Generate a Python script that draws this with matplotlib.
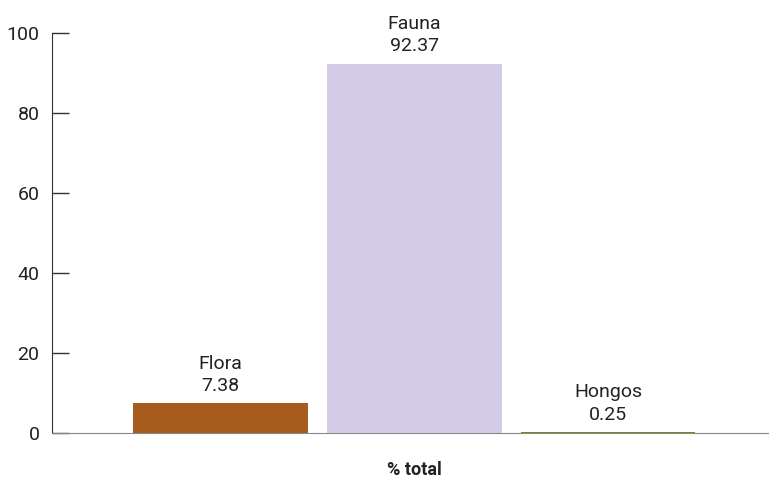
import matplotlib.pyplot as plt
import numpy as np

plt.rcParams['font.family'] = ['Roboto', 'DejaVu Sans']

# share of records per group
groups = ['Flora', 'Fauna', 'Hongos']
values = [7.38, 92.37, 0.25]
colors = ['#a65c1c', '#d4cce6', '#6b8e23']
category = '% total'

fig = plt.figure(figsize=(7.69, 4.8), dpi=100)
ax = fig.add_axes([52 / 769, 47 / 480, 1 - 52 / 769, 400 / 480])

x = np.arange(len(groups))
bars = ax.bar(x, values, width=0.9, color=colors)

for xi, name, v in zip(x, groups, values):
    ax.annotate('{}\n{:.2f}'.format(name, v), (xi, v), xytext=(0, 6),
                textcoords='offset points', ha='center', va='bottom',
                fontsize=14, color='#222222', linespacing=1.3)

ax.set_xlim(-0.87, 2.83)
ax.set_ylim(0, 100)
ax.set_yticks([0, 20, 40, 60, 80, 100])
ax.tick_params(axis='y', direction='in', length=12, width=1, color='#333333',
               labelsize=14, pad=9, labelcolor='#222222')
ax.set_xticks([1])
ax.set_xticklabels([category], fontweight='bold', fontsize=13, color='#222222')
ax.tick_params(axis='x', length=0, pad=20)

for s in ['top', 'right']:
    ax.spines[s].set_visible(False)
ax.spines['left'].set_color('#333333')
ax.spines['bottom'].set_color('#888888')

fig.savefig('out.png', dpi=100)
